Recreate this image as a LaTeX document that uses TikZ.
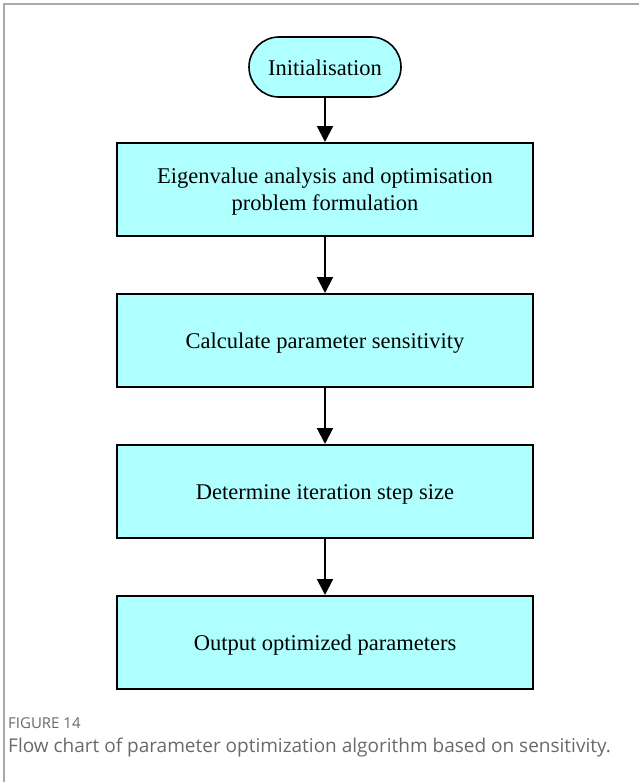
\documentclass[tikz,border=0pt]{standalone}
\usepackage{fontspec}
\setmainfont{Liberation Serif}
\newfontfamily\capfont{Open Sans}
\usetikzlibrary{arrows.meta}
\definecolor{boxfill}{RGB}{176,255,255}
\definecolor{framegray}{RGB}{170,170,170}
\definecolor{captext}{RGB}{105,105,105}
% box text, set a little below the geometric centre (box size kept)
\newcommand{\boxtext}[1]{\raisebox{-2.5bp}[\height][\depth]{\begin{tabular}{@{}c@{}}#1\end{tabular}}}
\begin{document}
\begin{tikzpicture}[x=1bp,y=-1bp,
  stepbox/.style={draw=black,line width=2bp,fill=boxfill,minimum width=416bp,
    minimum height=93bp,inner sep=0pt,font=\fontsize{22.5bp}{27bp}\selectfont},
  startbox/.style={draw=black,line width=1.6bp,fill=boxfill,minimum width=152bp,
    minimum height=60bp,rounded corners=30bp,inner sep=0pt,font=\fontsize{22.5bp}{27bp}\selectfont},
  flow/.style={line width=2bp,-{Triangle[length=16bp,width=16bp]}}]
  \useasboundingbox (0,0) rectangle (639,782);
  % page frame
  \draw[framegray,line width=1.5bp] (4,782) -- (4,4) -- (639,4);
  % flow chart
  \node[startbox] (init) at (325,67) {\raisebox{-1bp}[\height][\depth]{Initialisation}};
  \node[stepbox] (eig) at (325,189.5) {\boxtext{Eigenvalue analysis and optimisation\\problem formulation}};
  \node[stepbox] (sens) at (325,340.5) {\boxtext{Calculate parameter sensitivity}};
  \node[stepbox] (step) at (325,491.5) {\boxtext{Determine iteration step size}};
  \node[stepbox] (out) at (325,642.5) {\boxtext{Output optimized parameters}};
  \draw[flow] (init) -- (eig);
  \draw[flow] (eig) -- (sens);
  \draw[flow] (sens) -- (step);
  \draw[flow] (step) -- (out);
  % caption
  \node[anchor=base west,inner sep=0pt,text=captext,font=\capfont\fontsize{15bp}{18bp}\selectfont] (fig) at (8,728) {FIGURE 14};
  \node[anchor=base west,inner sep=0pt,text=captext,font=\capfont\fontsize{19bp}{22bp}\selectfont] (cap) at (8,752) {Flow chart of parameter optimization algorithm based on sensitivity.};
\end{tikzpicture}
\end{document}
